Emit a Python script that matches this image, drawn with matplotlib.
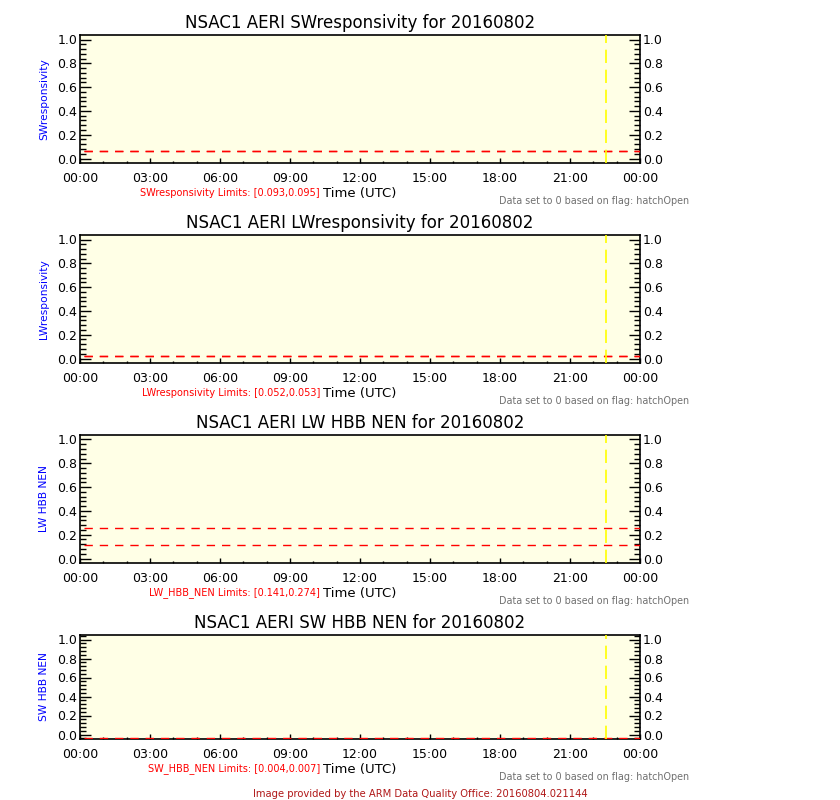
import matplotlib
matplotlib.use("Agg")
import matplotlib.pyplot as plt
from matplotlib.ticker import FixedLocator

# ---------------- data ----------------
site = "NSAC1"
instrument = "AERI"
date_str = "20160802"
titles = ["SWresponsivity", "LWresponsivity", "LW HBB NEN", "SW HBB NEN"]
ylabels = ["SWresponsivity", "LWresponsivity", "LW HBB NEN", "SW HBB NEN"]
limit_names = ["SWresponsivity", "LWresponsivity", "LW_HBB_NEN", "SW_HBB_NEN"]
limits_lo = [0.093, 0.052, 0.141, 0.004]
limits_hi = [0.095, 0.053, 0.274, 0.007]
limit_start_hr = 0.15
limit_end_hr = 24.0
hatch_open_hr = 22.55
xtick_hours = [0, 3, 6, 9, 12, 15, 18, 21, 24]
xtick_labels = ["00:00", "03:00", "06:00", "09:00", "12:00", "15:00", "18:00", "21:00", "00:00"]
ytick_values = [0.0, 0.2, 0.4, 0.6, 0.8, 1.0]
ytick_labels = ["0.0", "0.2", "0.4", "0.6", "0.8", "1.0"]
note_text = "Data set to 0 based on flag: hatchOpen"
credit_text = "Image provided by the ARM Data Quality Office: 20160804.021144"

# ---------------- layout ----------------
W, H = 840, 800
fig = plt.figure(figsize=(W / 100, H / 100), dpi=100)
fig.patch.set_facecolor("white")

left_px, width_px = 80, 560
tops_px = [35, 235, 435, 635]
heights_px = [128, 128, 128, 104]
bg = "#ffffe6"
font = "DejaVu Sans"


def fx(x):
    return x / W


def fy(y):
    return 1 - y / H


for i in range(4):
    top = tops_px[i]
    hgt = heights_px[i]
    bottom = top + hgt
    ax = fig.add_axes([fx(left_px), fy(bottom), width_px / W, hgt / H])
    ax.set_facecolor(bg)
    ax.set_xlim(0, 24)
    ax.set_ylim(0, 1)

    # limit lines
    for v in (limits_lo[i], limits_hi[i]):
        ax.plot([limit_start_hr, limit_end_hr], [v, v], color="red", lw=1.0,
                dashes=(6, 5), clip_on=True, zorder=3)
    # hatch open vertical line
    ax.axvline(hatch_open_hr, color="yellow", lw=1.2, dashes=(8, 4), zorder=4)

    # y ticks: labels inset ~4 px from each axis end (IDL style)
    inset = 4.5 / hgt
    span = 1 - 2 * inset
    ypos = [inset + v * span for v in ytick_values]
    ax.set_yticks(ypos)
    ax.set_yticklabels(ytick_labels)
    minor = [inset + (k * 0.04) * span for k in range(-1, 27)]
    minor = [m for m in minor if 0 <= m <= 1.0001]
    ax.yaxis.set_minor_locator(FixedLocator(minor))
    ax.tick_params(axis="y", which="major", direction="in", length=8, width=1,
                   left=True, right=True, labelleft=True, labelright=True,
                   labelsize=9, pad=2, colors="black")
    ax.tick_params(axis="y", which="minor", direction="in", length=4.3, width=1,
                   left=True, right=True)

    ax.set_xticks(xtick_hours)
    ax.set_xticklabels(xtick_labels)
    ax.xaxis.set_minor_locator(FixedLocator(list(range(0, 25))))
    ax.tick_params(axis="x", which="major", direction="in", length=3.5, width=1,
                   bottom=True, top=False, labelsize=9, pad=6.5)
    ax.tick_params(axis="x", which="minor", direction="in", length=1.8, width=1,
                   bottom=True, top=False)
    for t in ax.get_xticklabels() + ax.get_yticklabels():
        t.set_family(font)
    for s in ax.spines.values():
        s.set_linewidth(1.2)
        s.set_color("black")

    # title
    fig.text(fx(left_px + width_px / 2), fy(top - 7),
             f"{site} {instrument} {titles[i]} for {date_str}",
             ha="center", va="baseline", fontsize=12, family=font)
    # y label
    fig.text(fx(44), fy(top + hgt / 2), ylabels[i], rotation=90,
             ha="center", va="center", fontsize=7.7, color="blue", family=font)
    # x label
    fig.text(fx(left_px + width_px / 2), fy(bottom + 30), "Time (UTC)",
             ha="center", va="center", fontsize=9.5, family=font)
    # limits text
    fig.text(fx(320), fy(bottom + 30),
             f"{limit_names[i]} Limits: [{limits_lo[i]:.3f},{limits_hi[i]:.3f}]",
             ha="right", va="center", fontsize=7.0, color="red", family=font)
    # note
    fig.text(fx(689), fy(bottom + 37.5), note_text,
             ha="right", va="center", fontsize=6.9, color="#707070", family=font)

fig.text(0.5, fy(794), credit_text, ha="center", va="center",
         fontsize=7.2, color="#b01818", family=font)

fig.savefig("out.png", dpi=100, facecolor="white")
